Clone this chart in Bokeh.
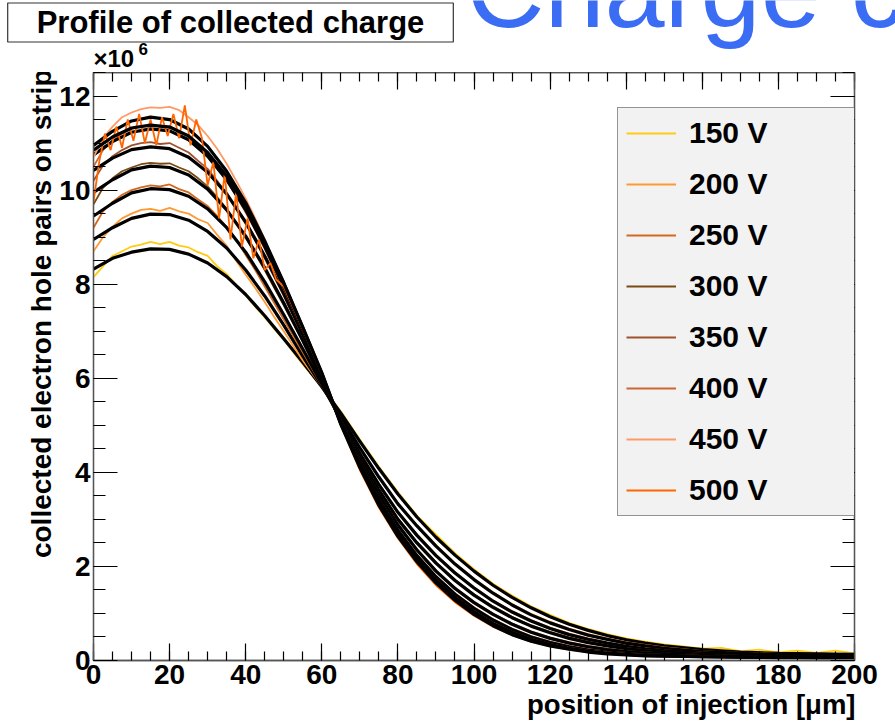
from bokeh.plotting import figure
from bokeh.models import (Label, Legend, LegendItem, LinearAxis, Title,
                          SingleIntervalTicker, Range1d)
from bokeh.layouts import column
from bokeh.embed import file_html
from bokeh.resources import INLINE

# ---------------- data (values in units of 10^6 e-h pairs) ----------------
VOLTAGES = ["150 V", "200 V", "250 V", "300 V", "350 V", "400 V", "450 V", "500 V"]
COLORS = ["#ffcc11", "#ff9933", "#d2691e", "#7b4a12", "#a0522d", "#cc6633", "#ff9966", "#ff6600"]

X_FIT = [0, 5, 10, 15, 20, 25, 30, 35, 40, 45, 50, 55, 60, 65, 70, 75, 80, 85, 90, 95,
         100, 105, 110, 115, 120, 125, 130, 135, 140, 145, 150, 160, 170, 180, 190, 200]

FIT_150 = [8.32, 8.55, 8.68, 8.75, 8.74, 8.64, 8.45, 8.16, 7.78, 7.33, 6.84, 6.34, 5.82, 5.26, 4.66, 4.08, 3.54, 3.05, 2.62, 2.24,
           1.9, 1.6, 1.34, 1.12, 0.93, 0.77, 0.64, 0.53, 0.44, 0.37, 0.31, 0.23, 0.18, 0.15, 0.14, 0.13]
FIT_200 = [8.95, 9.2, 9.4, 9.49, 9.48, 9.36, 9.12, 8.77, 8.3, 7.75, 7.13, 6.47, 5.84, 5.18, 4.52, 3.9, 3.33, 2.86, 2.43, 2.05,
           1.72, 1.43, 1.18, 0.97, 0.8, 0.66, 0.54, 0.45, 0.37, 0.31, 0.26, 0.19, 0.15, 0.13, 0.12, 0.11]
FIT_250 = [9.45, 9.72, 9.94, 10.03, 10.01, 9.87, 9.6, 9.2, 8.68, 8.05, 7.35, 6.62, 5.88, 5.12, 4.4, 3.74, 3.15, 2.66, 2.23, 1.86,
           1.54, 1.26, 1.03, 0.84, 0.68, 0.55, 0.45, 0.37, 0.3, 0.25, 0.21, 0.16, 0.13, 0.11, 0.1, 0.1]
FIT_300 = [9.95, 10.22, 10.43, 10.51, 10.48, 10.32, 10.02, 9.58, 9.02, 8.35, 7.6, 6.8, 5.96, 5.1, 4.32, 3.62, 3.0, 2.5, 2.07, 1.7,
           1.39, 1.13, 0.91, 0.73, 0.59, 0.47, 0.38, 0.31, 0.25, 0.21, 0.18, 0.13, 0.11, 0.1, 0.09, 0.09]
FIT_350 = [10.42, 10.68, 10.86, 10.92, 10.88, 10.7, 10.38, 9.92, 9.32, 8.6, 7.8, 6.93, 6.02, 5.08, 4.25, 3.52, 2.88, 2.35, 1.9, 1.53,
           1.23, 0.98, 0.77, 0.6, 0.47, 0.37, 0.29, 0.23, 0.19, 0.16, 0.14, 0.11, 0.09, 0.08, 0.08, 0.08]
FIT_400 = [10.75, 11.03, 11.23, 11.3, 11.26, 11.07, 10.72, 10.22, 9.58, 8.8, 7.95, 7.03, 6.06, 5.06, 4.18, 3.42, 2.77, 2.23, 1.78, 1.41,
           1.11, 0.86, 0.66, 0.5, 0.38, 0.29, 0.22, 0.18, 0.15, 0.12, 0.11, 0.09, 0.08, 0.07, 0.07, 0.07]
FIT_450 = [10.95, 11.25, 11.47, 11.55, 11.5, 11.3, 10.93, 10.4, 9.73, 8.92, 8.03, 7.08, 6.1, 5.04, 4.14, 3.36, 2.7, 2.16, 1.71, 1.34,
           1.04, 0.79, 0.6, 0.45, 0.34, 0.26, 0.2, 0.16, 0.13, 0.11, 0.1, 0.08, 0.07, 0.07, 0.06, 0.06]
FIT_500 = [10.85, 11.13, 11.32, 11.38, 11.34, 11.15, 10.8, 10.3, 9.66, 8.88, 8.02, 7.08, 6.12, 5.02, 4.1, 3.3, 2.64, 2.1, 1.65, 1.28,
           0.98, 0.74, 0.55, 0.41, 0.31, 0.24, 0.18, 0.14, 0.12, 0.1, 0.09, 0.08, 0.07, 0.06, 0.06, 0.06]

X_DATA = [0, 2.5, 5, 7.5, 10, 12.5, 15, 17.5, 20, 22.5, 25, 27.5, 30, 32.5, 35, 37.5, 40, 42.5, 45, 47.5, 50,
          55, 60, 65, 70, 75, 80, 85, 90, 95, 100, 105, 110, 115, 120, 125, 130, 135, 140, 145, 150,
          155, 160, 165, 170, 175, 180, 185, 190, 195, 200]

DATA_150 = [8.15, 8.38, 8.6, 8.7, 8.8, 8.84, 8.9, 8.85, 8.9, 8.82, 8.78, 8.68, 8.6, 8.38, 8.22, 7.98, 7.76, 7.52, 7.3, 7.05, 6.82,
            6.3, 5.82, 5.3, 4.7, 4.12, 3.58, 3.08, 2.68, 2.28, 1.94, 1.63, 1.38, 1.15, 0.97, 0.8, 0.67, 0.56, 0.47, 0.4, 0.34,
            0.3, 0.25, 0.27, 0.2, 0.23, 0.17, 0.21, 0.16, 0.21, 0.15]
DATA_200 = [8.7, 9.0, 9.22, 9.4, 9.5, 9.58, 9.6, 9.56, 9.62, 9.55, 9.5, 9.38, 9.3, 9.05, 8.82, 8.5, 8.2, 7.92, 7.62, 7.3, 7.0,
            6.38, 5.82, 5.18, 4.52, 3.9, 3.34, 2.88, 2.46, 2.07, 1.74, 1.45, 1.2, 0.99, 0.82, 0.68, 0.56, 0.47, 0.39, 0.33, 0.28,
            0.24, 0.2, 0.18, 0.16, 0.15, 0.14, 0.13, 0.12, 0.12, 0.11]
DATA_250 = [9.2, 9.55, 9.75, 9.9, 10.0, 10.06, 10.1, 10.08, 10.12, 10.02, 9.95, 9.8, 9.66, 9.45, 9.22, 8.95, 8.62, 8.3, 7.95, 7.6, 7.25,
            6.55, 5.85, 5.12, 4.42, 3.76, 3.16, 2.68, 2.25, 1.88, 1.56, 1.28, 1.05, 0.86, 0.7, 0.57, 0.47, 0.38, 0.31, 0.26, 0.22,
            0.19, 0.17, 0.15, 0.13, 0.12, 0.11, 0.11, 0.1, 0.1, 0.1]
DATA_300 = [9.7, 10.05, 10.25, 10.4, 10.48, 10.55, 10.58, 10.56, 10.57, 10.48, 10.4, 10.25, 10.08, 9.85, 9.6, 9.3, 8.98, 8.65, 8.3, 7.92, 7.55,
            6.78, 5.98, 5.12, 4.34, 3.64, 3.02, 2.52, 2.09, 1.72, 1.41, 1.15, 0.93, 0.75, 0.61, 0.49, 0.4, 0.32, 0.26, 0.22, 0.19,
            0.16, 0.14, 0.12, 0.11, 0.1, 0.1, 0.09, 0.09, 0.09, 0.09]
DATA_350 = [10.2, 10.52, 10.72, 10.85, 10.95, 11.0, 11.02, 10.98, 11.0, 10.9, 10.8, 10.62, 10.45, 10.2, 9.92, 9.6, 9.28, 8.92, 8.55, 8.15, 7.75,
            6.9, 6.04, 5.1, 4.27, 3.54, 2.9, 2.37, 1.92, 1.55, 1.25, 1.0, 0.79, 0.62, 0.49, 0.39, 0.31, 0.25, 0.2, 0.17, 0.15,
            0.13, 0.12, 0.11, 0.1, 0.09, 0.09, 0.08, 0.08, 0.08, 0.08]
DATA_400 = [10.5, 10.85, 11.05, 11.2, 11.3, 11.36, 11.38, 11.35, 11.36, 11.25, 11.15, 10.96, 10.78, 10.5, 10.2, 9.88, 9.52, 9.15, 8.75, 8.32, 7.9,
            7.0, 6.08, 5.08, 4.2, 3.44, 2.79, 2.25, 1.8, 1.43, 1.13, 0.88, 0.68, 0.52, 0.4, 0.31, 0.24, 0.19, 0.16, 0.13, 0.12,
            0.11, 0.1, 0.09, 0.08, 0.08, 0.07, 0.07, 0.07, 0.07, 0.07]
DATA_450 = [10.7, 11.1, 11.35, 11.55, 11.65, 11.72, 11.76, 11.75, 11.77, 11.7, 11.55, 11.38, 11.15, 10.88, 10.56, 10.2, 9.82, 9.4, 8.95, 8.45, 8.0,
            7.05, 6.08, 5.02, 4.12, 3.35, 2.7, 2.16, 1.72, 1.35, 1.05, 0.8, 0.61, 0.46, 0.35, 0.27, 0.21, 0.17, 0.14, 0.12, 0.1,
            0.09, 0.08, 0.08, 0.07, 0.07, 0.07, 0.06, 0.06, 0.06, 0.06]

X_DATA_500 = [0, 1.5, 3, 4.5, 6, 7.5, 9, 10.5, 12, 13.5, 15, 16.5, 18, 19.5, 21, 22.5, 24, 25.5, 27, 28.5,
              30, 31.5, 33, 34.5, 36, 37.5, 39, 40.5, 42, 43.5, 45, 46.5, 48,
              50, 55, 60, 65, 70, 75, 80, 85, 90, 95, 100, 105, 110, 115, 120, 125, 130, 135, 140, 145, 150,
              155, 160, 165, 170, 175, 180, 185, 190, 195, 200]
DATA_500 = [9.75, 10.6, 11.2, 10.85, 11.35, 10.9, 11.5, 11.05, 11.62, 11.0, 11.5, 10.95, 11.55, 11.15, 11.62, 11.1, 11.8, 10.95, 11.5, 11.1,
            10.1, 10.6, 9.4, 10.35, 8.95, 9.95, 8.8, 9.4, 8.55, 8.95, 8.3, 8.45, 8.1,
            7.95, 7.05, 6.1, 5.0, 4.05, 3.25, 2.6, 2.05, 1.6, 1.24, 0.95, 0.72, 0.54, 0.4, 0.3, 0.23, 0.18, 0.14, 0.12, 0.1, 0.09,
            0.08, 0.08, 0.07, 0.07, 0.07, 0.06, 0.06, 0.06, 0.06, 0.05]

X_TICK_STEP = 20
Y_TICK_STEP = 2

SERIES = [
    (X_DATA, DATA_150, FIT_150), (X_DATA, DATA_200, FIT_200), (X_DATA, DATA_250, FIT_250),
    (X_DATA, DATA_300, FIT_300), (X_DATA, DATA_350, FIT_350), (X_DATA, DATA_400, FIT_400),
    (X_DATA, DATA_450, FIT_450), (X_DATA_500, DATA_500, FIT_500),
]

FONT = "Liberation Sans"
W = 895
TOP_H = 72

# ---------------- top strip: title box, slide text, exponent ----------------
top = figure(frame_width=W, frame_height=TOP_H, x_range=Range1d(0, W), y_range=Range1d(0, TOP_H),
             output_backend="svg", toolbar_location=None, x_axis_type=None, y_axis_type=None,
             min_border=0, min_border_left=0, min_border_right=0, min_border_top=0, min_border_bottom=0)
try:
    top.frame_align = False
except Exception:
    pass
top.outline_line_color = None
top.background_fill_color = "white"
top.border_fill_color = "white"
top.xgrid.visible = False
top.ygrid.visible = False

def ty(cy):
    return TOP_H - cy

bg = Label(x=466, y=ty(49), x_units="screen", y_units="screen", text="Charge c",
           text_font=FONT, text_font_size="108px", text_color="#3a6cf4",
           text_align="left", text_baseline="bottom")
top.add_layout(bg)

title = Label(x=230, y=ty(22), x_units="screen", y_units="screen",
              text="Profile of collected charge", text_font=FONT, text_font_style="bold",
              text_font_size="31px", text_color="black", text_align="center", text_baseline="middle",
              border_line_color="#333333", border_line_width=1.2, background_fill_color="white")
try:
    title.padding = (29, 29, 2, 2)
except Exception:
    title.padding = 4
top.add_layout(title)

mult = Label(x=93, y=ty(58), x_units="screen", y_units="screen", text="\u00d710",
             text_font=FONT, text_font_style="bold", text_font_size="24px",
             text_align="left", text_baseline="middle", text_color="black")
top.add_layout(mult)
expo = Label(x=138, y=ty(48), x_units="screen", y_units="screen", text="6",
             text_font=FONT, text_font_style="bold", text_font_size="17px",
             text_align="left", text_baseline="middle", text_color="black")
top.add_layout(expo)

# ---------------- main plot ----------------
p = figure(width=W, height=727 - TOP_H, x_range=Range1d(0, 200), y_range=Range1d(0, 12.5),
           output_backend="svg", toolbar_location=None,
           x_axis_type=None, y_axis_type=None,
           min_border_left=93, min_border_right=41, min_border_top=0, min_border_bottom=67)
try:
    p.frame_align = False
except Exception:
    pass
p.background_fill_color = "white"
p.border_fill_color = "white"
p.outline_line_color = "#555555"
p.outline_line_width = 1.3
p.xgrid.visible = False
p.ygrid.visible = False


def make_axis(interval, tick_in, minor_in, labels):
    ax = LinearAxis(ticker=SingleIntervalTicker(interval=interval, num_minor_ticks=4))
    ax.major_tick_in = tick_in
    ax.major_tick_out = 0
    ax.minor_tick_in = minor_in
    ax.minor_tick_out = 0
    ax.axis_line_color = "#555555"
    ax.axis_line_width = 1.3
    ax.major_tick_line_color = "black"
    ax.minor_tick_line_color = "black"
    ax.major_tick_line_width = 1.2
    ax.minor_tick_line_width = 1.2
    if labels:
        ax.major_label_text_font = FONT
        ax.major_label_text_font_style = "bold"
        ax.major_label_text_font_size = "28px"
        ax.major_label_text_color = "black"
    else:
        ax.major_label_text_font_size = "0px"
        ax.major_label_text_alpha = 0
        ax.major_label_standoff = 0
    return ax


xb = make_axis(X_TICK_STEP, 17, 9, True)
xb.major_label_standoff = 4
yl = make_axis(Y_TICK_STEP, 24, 12, True)
yl.major_label_standoff = 3
xt = make_axis(X_TICK_STEP, 17, 9, False)
yr = make_axis(Y_TICK_STEP, 24, 12, False)
p.add_layout(xb, "below")
p.add_layout(yl, "left")
p.add_layout(xt, "above")
p.add_layout(yr, "right")

xtitle = Title(text="position of injection [\u03bcm]", align="right",
               text_font=FONT, text_font_style="bold", text_font_size="27.5px",
               text_color="black", standoff=0, offset=-1)
p.add_layout(xtitle, "below")
ytitle = Title(text="collected electron hole pairs on strip", align="right",
               text_font=FONT, text_font_style="bold", text_font_size="28px",
               text_color="black", standoff=0, offset=-3)
p.add_layout(ytitle, "left")

items = []
for (xs, data, fit), name, col in zip(SERIES, VOLTAGES, COLORS):
    r = p.line(xs, data, line_color=col, line_width=1.8)
    p.line(X_FIT, fit, line_color="black", line_width=3.2, line_join="round")
    items.append(LegendItem(label=name, renderers=[r]))

legend = Legend(items=items, location=(524, 144),
                background_fill_color="#f2f2f2", background_fill_alpha=1.0,
                border_line_color="#333333", border_line_width=1.5,
                label_text_font=FONT, label_text_font_style="bold",
                label_text_font_size="30px", label_text_color="black",
                glyph_width=50, glyph_height=20, label_height=20, label_width=230,
                label_standoff=13, spacing=17, padding=8, margin=0)
p.add_layout(legend, "center")

layout = column(top, p, spacing=0)
open("out.html", "w").write(file_html(layout, INLINE))
